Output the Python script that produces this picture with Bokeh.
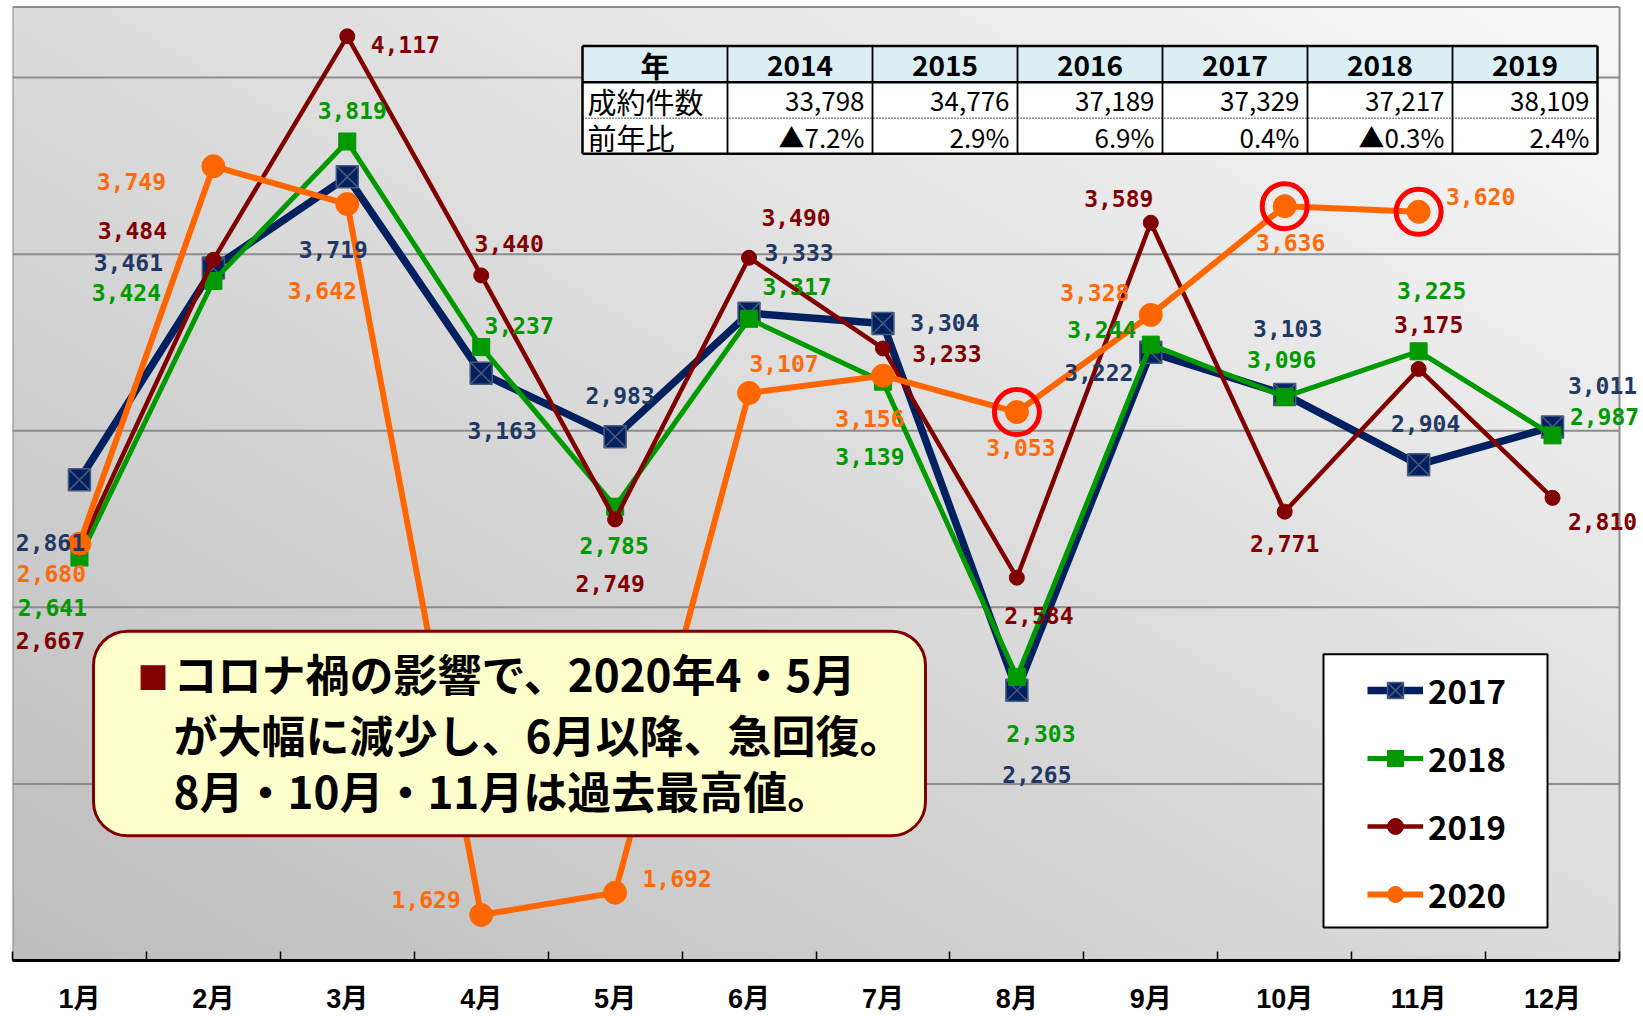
import numpy as np
from bokeh.plotting import figure
from bokeh.models import (ColumnDataSource, LabelSet, Label, BoxAnnotation, Legend,
                          LegendItem, FixedTicker, Range1d)
from bokeh.embed import file_html
from bokeh.resources import INLINE
from bokeh.core.properties import value

# ---------------- data ----------------
months = ["1月", "2月", "3月", "4月", "5月", "6月", "7月", "8月", "9月", "10月", "11月", "12月"]
series_names = ["2017", "2018", "2019", "2020"]
sales_2017 = [2861, 3461, 3719, 3163, 2983, 3333, 3304, 2265, 3222, 3103, 2904, 3011]
sales_2018 = [2641, 3424, 3819, 3237, 2785, 3317, 3139, 2303, 3244, 3096, 3225, 2987]
sales_2019 = [2667, 3484, 4117, 3440, 2749, 3490, 3233, 2584, 3589, 2771, 3175, 2810]
sales_2020 = [2680, 3749, 3642, 1629, 1692, 3107, 3156, 3053, 3328, 3636, 3620]
highlight_2020 = ["8月", "10月", "11月"]
grid_values = [2000, 2500, 3000, 3500, 4000]

table_header = "年"
table_years = ["2014", "2015", "2016", "2017", "2018", "2019"]
table_row_labels = ["成約件数", "前年比"]
table_counts = [33798, 34776, 37189, 37329, 37217, 38109]
table_yoy = [-7.2, 2.9, 6.9, 0.4, -0.3, 2.4]

callout_bullet = "■"
callout_lines = ["コロナ禍の影響で、2020年4・5月",
                 "が大幅に減少し、6月以降、急回復。",
                 "8月・10月・11月は過去最高値。"]

# ---------------- label placement (px: right / down) ----------------
off_2017 = [(-29, 63), (-85, -5), (-14, 73), (21, 57), (5, -41), (50, -61),
            (62, -1), (20, 84), (-52, 20), (3, -66), (7, -41), (50, -41)]
off_2018 = [(-27, 50), (-87, 11), (5, -31), (38, -22), (-1, 39), (48, -32),
            (-13, 75), (24, 57), (-49, -15), (-3, -37), (13, -61), (52, -19)]
off_2019 = [(-29, 92), (-81, -29), (58, 8), (28, -32), (-5, 64), (47, -40),
            (64, 5), (22, 38), (-32, -24), (0, 32), (10, -44), (50, 24)]
off_2020 = [(-28, 30), (-82, 15), (-25, 86), (-55, -15), (62, -14), (35, -29),
            (-13, 43), (4, 35), (-56, -22), (6, 36), (62, -15)]

# ---------------- styles ----------------
C17, C18, C19, C20 = "#002060", "#009900", "#800000", "#FF6600"
L17, L18, L19, L20 = "#1F3864", "#009900", "#800000", "#FF6A0A"
JP = "Noto Sans CJK JP"
AXFONT = "Liberation Sans, Noto Sans CJK JP"
BORDER = "#8C8C8C"

# ---------------- geometry (canvas px) ----------------
W, H = 1640, 1016
FL, FR, FT, FB = 12, 1619, 6.5, 962     # plot-area edges
YMIN, YMAX = 1500, 4200
NX = len(months)
PXX = (FR - FL) / NX
PXY = (FB - FT) / (YMAX - YMIN)


def dx(px):
    return (px - FL) / PXX


def dy(py):
    return YMIN + (FB - py) / PXY


p = figure(width=W, height=H, output_backend="svg", toolbar_location=None,
           x_range=Range1d(0, dx(W)), y_range=Range1d(YMIN, dy(0)),
           min_border_left=FL, min_border_right=0,
           min_border_top=0, min_border_bottom=H - FB)
p.background_fill_color = "white"
p.border_fill_color = "white"
p.outline_line_color = None

# gradient background of plot area
ny, nx = 240, 400
u = np.linspace(0, 1, nx)[None, :]
v = np.linspace(0, 1, ny)[:, None]
g = (190 + (249 - 190) * (u + v) / 2).astype(np.uint8)
img = np.empty((ny, nx), dtype=np.uint32)
view = img.view(dtype=np.uint8).reshape((ny, nx, 4))
view[..., 0] = g
view[..., 1] = g
view[..., 2] = g
view[..., 3] = 255
p.image_rgba(image=[img], x=0, y=YMIN, dw=NX, dh=YMAX - YMIN, level="image")

# grid lines and plot-area border
p.yaxis.visible = False
p.xgrid.visible = False
p.ygrid.visible = False
p.segment(x0=[0] * len(grid_values), x1=[NX] * len(grid_values), y0=grid_values,
          y1=grid_values, line_color=BORDER, line_width=2)
p.segment(x0=[0, 0, NX], x1=[NX, 0, NX], y0=[YMAX, YMIN, YMIN], y1=[YMAX, YMAX, YMAX],
          line_color=BORDER, line_width=2)

xs = [i + 0.5 for i in range(NX)]
p.xaxis.bounds = (0, NX)
p.xaxis.ticker = FixedTicker(ticks=xs, minor_ticks=list(range(NX + 1)))
p.xaxis.major_label_overrides = {x: m for x, m in zip(xs, months)}
p.xaxis.major_tick_line_color = None
p.xaxis.major_tick_in = 0
p.xaxis.major_tick_out = 0
p.xaxis.minor_tick_line_color = "black"
p.xaxis.minor_tick_line_width = 1.5
p.xaxis.minor_tick_in = 9
p.xaxis.minor_tick_out = 0
p.xaxis.axis_line_color = "black"
p.xaxis.axis_line_width = 3
p.xaxis.major_label_text_font = AXFONT
p.xaxis.major_label_text_font_style = "bold"
p.xaxis.major_label_text_font_size = "27px"
p.xaxis.major_label_text_color = "black"
p.xaxis.major_label_standoff = 23

# ---------------- series ----------------
r17l = p.line(xs, sales_2017, line_color=C17, line_width=7.5, line_join="round")
r17m = p.scatter(xs, sales_2017, marker="square_x", size=22, fill_color=C17,
                 line_color="#4A5A7A", line_width=1.5)
r18l = p.line(xs, sales_2018, line_color=C18, line_width=5, line_join="round")
r18m = p.scatter(xs, sales_2018, marker="square", size=17, fill_color=C18, line_color=C18)
r19l = p.line(xs, sales_2019, line_color=C19, line_width=4.5, line_join="round")
r19m = p.scatter(xs, sales_2019, marker="circle", size=15, fill_color=C19, line_color=C19)
xs20 = xs[:len(sales_2020)]
r20l = p.line(xs20, sales_2020, line_color=C20, line_width=6, line_join="round")
r20m = p.scatter(xs20, sales_2020, marker="circle", size=23, fill_color=C20, line_color=C20)

hi_idx = [months.index(m) for m in highlight_2020]
p.scatter([xs[i] for i in hi_idx], [sales_2020[i] for i in hi_idx], marker="circle",
          size=45, fill_color=None, line_color="#FF0000", line_width=5)

# ---------------- table ----------------
TL, TCW, NCOL = 582, 145, 7
TROWS = [45.5, 82, 118, 153.5]
TR = TL + TCW * NCOL
p.quad(left=dx(TL), right=dx(TR), top=dy(TROWS[0]), bottom=dy(TROWS[1]),
       fill_color="#DAEEF3", line_color=None)
p.quad(left=dx(TL), right=dx(TR), top=dy(TROWS[1]), bottom=dy(TROWS[3]),
       fill_color="white", line_color=None)
p.segment(x0=[dx(TL)] * 3, x1=[dx(TR)] * 3, y0=[dy(TROWS[0]), dy(TROWS[1]), dy(TROWS[3])],
          y1=[dy(TROWS[0]), dy(TROWS[1]), dy(TROWS[3])], line_color="black", line_width=2.5)
p.segment(x0=[dx(TL)], x1=[dx(TR)], y0=[dy(TROWS[2])], y1=[dy(TROWS[2])],
          line_color="#222222", line_width=1.5, line_dash="1 2")
vx = [dx(TL + TCW * k) for k in range(NCOL + 1)]
vw = [2.5 if k in (0, NCOL) else 1.8 for k in range(NCOL + 1)]
p.segment(x0=vx, x1=vx, y0=[dy(TROWS[0])] * len(vx), y1=[dy(TROWS[3])] * len(vx),
          line_color="black", line_width=vw)

hy = dy((TROWS[0] + TROWS[1]) / 2 + 1)
r2y = dy((TROWS[1] + TROWS[2]) / 2 + 1)
r3y = dy((TROWS[2] + TROWS[3]) / 2 + 1)
p.text(x=[dx(TL + TCW / 2)], y=[hy], text=[table_header], text_align="center",
       text_baseline="middle", text_font=value(JP), text_font_style="bold",
       text_font_size="29px", text_color="black")
p.text(x=[dx(TL + TCW * (k + 1.5)) for k in range(len(table_years))], y=[hy] * len(table_years),
       text=table_years, text_align="center", text_baseline="middle", text_font=value(JP),
       text_font_style="bold", text_font_size="28px", text_color="black")
p.text(x=[dx(TL + 5)] * 2, y=[r2y, r3y], text=table_row_labels, text_align="left",
       text_baseline="middle", text_font=value(JP), text_font_size="29px", text_color="black")
cnt_txt = [f"{c:,}" for c in table_counts]
yoy_txt = [("▲" if y < 0 else "") + f"{abs(y):.1f}%" for y in table_yoy]
rx = [dx(TL + TCW * (k + 2) - 8) for k in range(len(table_years))]
p.text(x=rx, y=[r2y] * len(rx), text=cnt_txt, text_align="right", text_baseline="middle",
       text_font=value(JP), text_font_size="26px", text_color="black")
p.text(x=rx, y=[r3y] * len(rx), text=yoy_txt, text_align="right", text_baseline="middle",
       text_font=value(JP), text_font_size="26px", text_color="black")

# ---------------- data labels ----------------
for vals, offs, col in [(sales_2017, off_2017, L17), (sales_2018, off_2018, L18),
                        (sales_2019, off_2019, L19), (sales_2020, off_2020, L20)]:
    src = ColumnDataSource(dict(x=xs[:len(vals)], y=vals, text=[f"{v:,}" for v in vals],
                                xo=[o[0] for o in offs], yo=[-o[1] for o in offs]))
    p.add_layout(LabelSet(x="x", y="y", text="text", x_offset="xo", y_offset="yo", source=src,
                          text_align="center", text_baseline="middle",
                          text_font=value("DejaVu Sans Mono"), text_font_style="bold",
                          text_font_size="23px", text_color=col))

# ---------------- callout ----------------
p.add_layout(BoxAnnotation(left=dx(93), right=dx(925), top=dy(632), bottom=dy(837),
                           fill_color="#FFFFCC", fill_alpha=1, line_color="#800000",
                           line_alpha=1, line_width=3, border_radius=34))
p.add_layout(Label(x=dx(137), y=dy(676), text=callout_bullet, text_align="left",
                   text_baseline="middle", text_font=JP, text_font_size="31px",
                   text_color="#800000"))
for ln, cy in zip(callout_lines, [674, 735, 791]):
    p.add_layout(Label(x=dx(173), y=dy(cy), text=ln, text_align="left", text_baseline="middle",
                       text_font=JP, text_font_style="bold", text_font_size="44px",
                       text_color="black"))

# ---------------- legend ----------------
p.add_layout(BoxAnnotation(left=dx(1323), right=dx(1547), top=dy(655), bottom=dy(929),
                           fill_color="white", fill_alpha=1, line_color="black",
                           line_alpha=1, line_width=2))
items = [LegendItem(label=n, renderers=rs) for n, rs in
         zip(series_names, [[r17l, r17m], [r18l, r18m], [r19l, r19m], [r20l, r20m]])]
ITEM_H, LSP = 48, 20
first_c = 691.7
leg_bottom = first_c - ITEM_H / 2 + 4 * ITEM_H + 3 * LSP
legend = Legend(items=items, location=(1367 - FL, FB - leg_bottom),
                padding=0, margin=0, spacing=LSP, glyph_width=56, glyph_height=40,
                label_height=40, label_standoff=5, border_line_color=None,
                background_fill_alpha=0, label_text_font=JP, label_text_font_style="bold",
                label_text_font_size="33px", label_text_color="black")
p.add_layout(legend)

open("out.html", "w").write(file_html(p, INLINE))
